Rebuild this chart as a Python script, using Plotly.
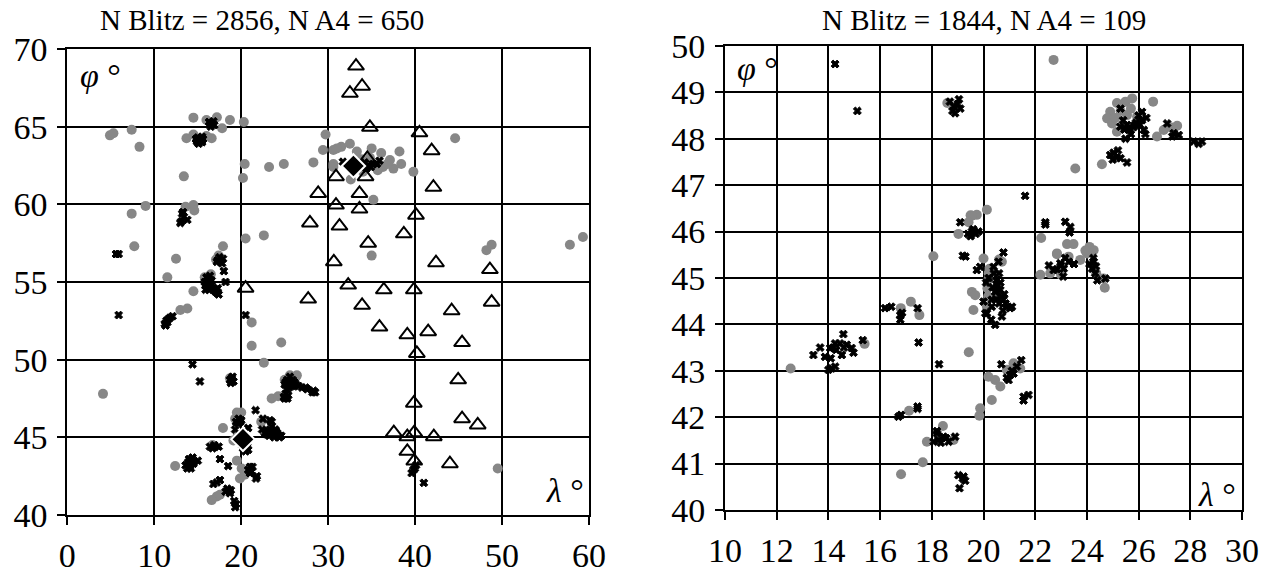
import plotly.graph_objects as go

# ---------------- Left panel data ----------------
L_grey_x = [4.9, 5.3, 7.4, 8.3, 14.5, 16.0, 17.2, 18.7, 20.3, 17.8, 13.7, 14.5, 16.6, 16.0,
            13.4, 20.4, 20.2, 23.2, 24.9, 28.3, 29.7, 29.4, 30.6, 31.5, 32.5, 31.0, 33.3,
            30.6, 30.6, 32.6, 35.0, 36.1, 37.1, 38.2, 38.4, 37.5, 36.3, 34.0, 39.8, 35.7, 36.8,
            33.8, 34.8, 35.2, 35.0, 44.6, 48.2, 48.8, 57.8, 59.3, 13.6, 14.5, 14.6, 9.0, 7.4,
            7.7, 12.5, 11.5, 17.9, 20.5, 22.6, 17.1, 17.4, 14.5, 15.8, 16.5, 13.0, 13.8, 21.2,
            21.2, 24.6, 22.6, 4.1, 18.7, 25.0, 25.6, 26.3, 23.5, 24.25, 20.0, 19.3, 19.5, 17.9,
            19.1, 19.6, 16.7, 12.4, 19.5, 20.05, 19.85, 20.4, 17.2, 16.6, 17.55, 49.5, 22.3, 26.4]
L_grey_y = [64.44, 64.57, 64.8, 63.7, 65.58, 65.43, 65.6, 65.43, 65.3, 64.9, 64.25, 64.5, 64.25, 64.4,
            61.8, 62.6, 61.7, 62.4, 62.6, 62.7, 64.5, 63.5, 63.5, 63.7, 63.9, 63.6, 63.4,
            62.6, 62.4, 61.6, 63.6, 63.3, 62.85, 63.4, 62.6, 62.3, 62.4, 62.1, 62.1, 62.2, 62.6,
            62.9, 63.0, 60.3, 56.7, 64.25, 57.05, 57.4, 57.4, 57.9, 59.85, 59.95, 59.6, 59.9, 59.4,
            57.3, 56.5, 55.3, 57.3, 57.8, 58.0, 56.45, 56.7, 54.4, 55.3, 55.5, 53.2, 53.3, 52.4,
            50.9, 51.1, 49.8, 47.8, 48.8, 48.7, 49.0, 48.9, 47.5, 47.65, 46.6, 46.2, 46.6, 45.6,
            44.8, 45.1, 44.5, 43.15, 43.5, 43.0, 42.35, 42.6, 41.2, 40.96, 41.3, 43.0, 46.0, 49.0]

L_blitz_x = [16.3, 16.6, 16.9, 16.5, 16.8,
             14.8, 15.0, 15.3, 15.5, 15.1, 15.4, 15.6, 15.0, 15.2, 14.9, 15.5,
             13.2, 13.4, 13.3, 13.1, 13.0, 13.8,
             5.6, 5.9, 5.9,
             17.3, 17.6, 17.9, 17.5, 17.8, 17.2, 18.0, 18.2,
             15.8, 16.0, 16.2, 16.4, 16.1, 16.5, 16.6, 15.9, 16.3, 17.0, 17.2, 17.3, 16.8, 17.4,
             16.2, 16.0, 16.4, 16.6, 17.1, 15.9, 16.3,
             11.2, 11.4, 11.6, 11.8, 11.3, 12.1, 11.5,
             20.5, 14.4, 15.25,
             18.7, 18.9, 19.1, 18.8, 19.0,
             25.0, 25.3, 25.6, 25.8, 26.0, 25.5, 25.2, 25.9, 26.3, 26.6, 27.0, 27.4, 27.6, 28.2, 28.5, 28.3,
             25.4, 25.7, 25.1, 26.1, 25.5, 25.8,
             24.9, 25.1, 25.3, 25.4, 25.0,
             21.65, 22.5, 23.3, 23.5,
             19.4, 19.7, 19.9, 19.6, 20.0,
             22.4, 22.7, 23.0, 23.3, 23.6, 23.9, 24.2, 24.4, 24.6, 23.2, 23.8, 22.9, 24.0, 23.5,
             23.4, 23.7, 24.1, 23.1, 24.3, 23.6,
             19.3, 20.8, 20.2, 20.5, 20.7, 20.1, 20.8,
             16.4, 16.7, 17.0, 17.4, 16.9,
             17.55, 18.5,
             13.6, 13.9, 14.1, 14.3, 14.5, 14.0, 14.4, 15.0, 14.2, 13.8, 14.2, 13.9, 14.6,
             20.8, 21.0, 21.2, 21.3, 21.0,
             21.8, 21.7,
             16.8, 17.55, 17.2,
             18.2, 18.5, 18.7, 18.4, 18.8,
             19.2, 19.4, 19.3,
             32.5, 33.2, 34.2, 34.6, 34.9, 35.2, 35.6, 34.4, 31.7, 35.9,
             39.97, 39.6, 40.1, 39.8, 41.0]
L_blitz_y = [65.3, 65.2, 65.1, 65.0, 65.35,
             64.2, 64.0, 64.1, 64.0, 63.9, 64.3, 64.2, 64.3, 64.15, 64.05, 64.35,
             59.4, 59.2, 59.5, 58.9, 58.8, 59.0,
             56.8, 56.8, 52.87,
             56.4, 56.3, 56.5, 56.6, 56.2, 56.3, 55.7, 55.0,
             55.0, 54.8, 55.2, 55.4, 54.6, 54.9, 55.1, 54.5, 54.5, 54.4, 54.3, 54.6, 54.6, 54.2,
             54.9, 55.3, 54.7, 54.8, 54.5, 54.8, 55.0,
             52.3, 52.5, 52.6, 52.7, 52.2, 52.8, 52.4,
             52.87, 49.7, 48.6,
             48.7, 48.8, 48.6, 48.5, 48.9,
             48.4, 48.7, 48.9, 48.5, 48.3, 48.2, 48.1, 48.7, 48.4, 48.3, 48.2, 48.2, 48.1, 47.9, 47.9, 48.0,
             48.6, 48.4, 48.55, 48.55, 48.5, 48.3,
             47.6, 47.8, 47.5, 47.7, 47.5,
             46.75, 46.2, 46.1, 46.0,
             46.0, 46.2, 46.0, 45.9, 46.1,
             45.5, 45.3, 45.4, 45.5, 45.3, 45.5, 45.2, 45.0, 45.1, 45.1, 45.0, 45.2, 45.4, 45.7,
             45.2, 45.2, 45.3, 45.3, 45.1, 45.45,
             45.5, 45.6, 44.3, 44.1, 44.4, 44.5, 44.2,
             44.4, 44.3, 44.4, 44.4, 44.5,
             43.6, 43.15,
             43.2, 43.4, 43.1, 43.5, 43.3, 43.6, 43.7, 43.5, 43.0, 43.0, 43.3, 43.3, 43.45,
             42.9, 43.1, 42.8, 43.1, 42.7,
             42.5, 42.35,
             42.0, 42.25, 42.1,
             41.5, 41.6, 41.4, 41.7, 41.6,
             40.9, 40.7, 40.5,
             62.5, 62.5, 62.7, 62.5, 62.4, 62.6, 62.6, 62.3, 62.74, 62.8,
             43.0, 42.7, 43.2, 42.9, 42.07]

L_a4_x = [33.2, 32.5, 33.9, 34.8, 40.5, 41.9, 34.5, 30.9, 34.3, 28.85, 33.6, 42.1, 30.9, 33.6,
          40.1, 27.9, 31.3, 38.7, 34.6, 30.65, 42.4, 48.6, 20.5, 32.3, 36.4, 39.85, 27.7, 33.9,
          48.8, 44.2, 35.9, 39.1, 41.5, 45.4, 40.2, 44.95, 39.85, 45.4, 47.2, 37.55, 39.1, 39.9,
          42.15, 39.1, 39.9, 44.0]
L_a4_y = [68.9, 67.15, 67.6, 64.96, 64.6, 63.45, 62.96, 61.78, 61.78, 60.7, 60.7, 61.1, 59.95, 59.7,
          59.3, 58.8, 58.6, 58.1, 57.5, 56.3, 56.24, 55.8, 54.6, 54.8, 54.5, 54.5, 53.9, 53.5,
          53.7, 53.15, 52.1, 51.6, 51.8, 51.1, 50.4, 48.7, 47.2, 46.2, 45.8, 45.3, 45.04, 45.3,
          45.04, 44.1, 43.47, 43.3]

L_diam_x = [32.9, 20.2]
L_diam_y = [62.47, 44.87]

# ---------------- Right panel data ----------------
R_grey_x = [22.71, 18.6, 25.16, 25.49, 25.75, 24.9, 24.78, 24.97, 25.16, 25.55, 25.94, 26.56, 25.3,
            25.1, 25.7, 26.71, 26.97, 27.23, 27.49, 23.55, 24.58, 19.5, 19.74, 20.13, 19.55, 19.42,
            19.03, 18.06, 22.23, 23.23, 23.48, 22.84, 23.29, 23.74, 24.0, 24.26, 24.36, 22.58, 22.84,
            23.0, 22.2, 24.1, 23.94, 24.64, 24.69, 20.0, 20.23, 20.19, 20.15, 20.13, 20.71, 20.6,
            19.55, 19.68, 19.61, 20.2, 20.18, 19.43, 16.8, 17.19, 17.52, 15.4, 12.54, 20.19, 20.45,
            20.65, 20.9, 21.16, 21.42, 20.32, 19.87, 19.84, 17.12, 18.43, 17.81, 18.84, 17.65, 16.81]
R_grey_y = [49.7, 48.77, 48.77, 48.8, 48.87, 48.58, 48.44, 48.33, 48.15, 48.51, 48.48, 48.8, 48.6,
            48.45, 48.65, 48.05, 48.19, 48.25, 48.28, 47.36, 47.45, 46.35, 46.36, 46.47, 46.34, 46.2,
            45.95, 45.47, 45.86, 45.73, 45.73, 45.53, 45.46, 45.39, 45.53, 45.6, 45.1, 45.1, 45.51,
            45.07, 45.07, 45.67, 45.59, 44.99, 44.79, 45.42, 45.2, 44.96, 44.78, 44.38, 45.35, 45.4,
            44.7, 44.63, 44.31, 45.1, 44.6, 43.4, 44.35, 44.49, 44.2, 43.58, 43.05, 42.87, 42.8,
            42.66, 43.02, 43.16, 43.05, 42.37, 42.19, 42.03, 42.14, 41.81, 41.47, 41.51, 41.03, 40.77]

R_blitz_x = [14.26, 15.12,
             18.7, 18.85, 19.0, 19.1, 18.9, 19.05, 18.8,
             25.29, 25.55, 25.8, 26.13, 26.13, 25.49, 26.2, 26.26, 25.65, 25.9, 26.0, 25.4, 25.7, 25.3, 26.3,
             25.6, 25.85, 26.05, 25.45,
             27.36, 27.55, 27.1, 27.3,
             28.13, 28.45, 28.32,
             24.9, 25.03, 25.15, 25.0, 25.2, 25.3, 25.55,
             21.61, 22.39, 22.39, 23.16, 23.36, 23.33,
             19.1,
             19.4, 19.55, 19.7, 19.6, 19.8, 19.5,
             19.3, 19.2,
             20.77,
             22.97, 22.71, 23.1, 23.3, 23.16, 22.84, 23.0, 22.53, 23.08, 23.5,
             24.26, 24.2, 24.32, 24.4, 24.71, 24.25, 24.1, 24.35,
             19.87, 20.39, 20.52, 20.65, 20.77, 20.9, 20.13, 20.45, 21.1, 20.71, 19.74, 20.58, 20.32,
             20.32, 20.0, 20.07, 21.03, 20.4, 20.55, 20.7, 20.85, 20.45, 20.6, 20.3, 20.2, 20.1, 20.6,
             20.5, 20.65, 20.8, 20.35, 20.75, 20.5,
             16.19, 16.43, 16.78, 16.78, 16.85, 17.45, 17.49,
             18.28,
             14.58, 14.26, 14.45, 14.71, 13.68, 13.42, 13.87, 14.09, 14.07, 14.19, 14.9, 14.97, 14.52,
             15.33, 14.13, 14.0, 14.26, 14.3, 14.6,
             20.97, 21.16, 21.29, 20.69, 21.46, 21.03, 20.9, 21.1,
             21.55, 21.74, 21.55,
             16.71, 16.81, 17.45, 17.45,
             18.07, 18.26, 18.45, 18.65, 18.2, 18.9, 18.35, 18.55, 18.2,
             19.03, 19.23, 19.29, 19.07, 19.2]
R_blitz_y = [49.61, 48.6,
             48.8, 48.7, 48.75, 48.65, 48.55, 48.85, 48.6,
             48.26, 48.3, 48.25, 48.58, 48.4, 48.0, 48.19, 48.1, 48.2, 48.35, 48.5, 48.4, 48.1, 48.65, 48.45,
             48.2, 48.3, 48.3, 48.2,
             48.12, 48.08, 48.33, 48.05,
             47.94, 47.94, 47.89,
             47.65, 47.7, 47.6, 47.55, 47.75, 47.58, 47.49,
             46.77, 46.2, 46.15, 46.21, 46.1, 45.98,
             46.2,
             45.95, 46.0, 45.95, 46.05, 46.0, 45.9,
             45.46, 45.48,
             45.55,
             45.32, 45.17, 45.2, 45.35, 45.43, 45.19, 45.27, 45.27, 45.03, 45.3,
             45.35, 45.2, 45.1, 44.95, 44.99, 45.43, 45.3, 45.25,
             45.24, 45.24, 44.96, 44.74, 44.53, 44.38, 44.24, 43.99, 44.38, 44.17, 45.17, 45.35, 44.53,
             44.38, 44.49, 44.24, 44.35, 45.1, 44.85, 44.6, 44.45, 44.7, 44.45, 44.1, 45.0, 44.9, 45.1,
             44.95, 44.9, 44.65, 44.8, 44.3, 44.55,
             44.35, 44.38, 44.2, 44.1, 44.25, 44.35, 43.61,
             43.14,
             43.79, 43.59, 43.59, 43.56, 43.5, 43.34, 43.3, 43.27, 43.49, 43.5, 43.49, 43.39, 43.34,
             43.66, 43.05, 43.02, 43.09, 43.45, 43.5,
             42.8, 42.94, 43.09, 43.14, 43.23, 42.91, 42.85, 43.0,
             42.44, 42.48, 42.36,
             42.01, 42.05, 42.23, 42.18,
             41.47, 41.51, 41.58, 41.47, 41.65, 41.58, 41.45, 41.55, 41.7,
             40.75, 40.72, 40.63, 40.47, 40.68]

titles = ["N Blitz = 2856, N A4 = 650", "N Blitz = 1844, N A4 = 109"]

FONT = "Liberation Serif"
GREY = "#878787"

fig = go.Figure()

def add_panel(gx, gy, bx, by, ax, ay, dx, dy, xa, ya):
    fig.add_trace(go.Scatter(x=gx, y=gy, mode="markers", xaxis=xa, yaxis=ya,
                             marker=dict(symbol="circle", size=10, color=GREY), showlegend=False))
    fig.add_trace(go.Scatter(x=bx, y=by, mode="markers", xaxis=xa, yaxis=ya,
                             marker=dict(symbol="x", size=7, color="black",
                                         line=dict(width=1, color="black")), showlegend=False))
    if ax:
        fig.add_trace(go.Scatter(x=ax, y=ay, mode="markers", xaxis=xa, yaxis=ya,
                                 marker=dict(symbol="triangle-up-open", size=14, color="black",
                                             line=dict(width=2, color="black")), showlegend=False))
    if dx:
        fig.add_trace(go.Scatter(x=dx, y=dy, mode="markers", xaxis=xa, yaxis=ya,
                                 marker=dict(symbol="diamond", size=18, color="black",
                                             line=dict(width=2, color="white")), showlegend=False))

add_panel(L_grey_x, L_grey_y, L_blitz_x, L_blitz_y, L_a4_x, L_a4_y, L_diam_x, L_diam_y, "x", "y")
add_panel(R_grey_x, R_grey_y, R_blitz_x, R_blitz_y, [], [], [], [], "x2", "y2")

axis_common = dict(showgrid=True, gridcolor="black", gridwidth=2, showline=True, linecolor="black",
                   linewidth=2, mirror=True, ticks="outside", ticklen=8, tickwidth=2, tickcolor="black",
                   zeroline=False, automargin=False,
                   tickfont=dict(family=FONT, size=34, color="black"))

fig.update_layout(
    template="none",
    width=1273, height=579, margin=dict(l=0, r=0, t=0, b=0),
    paper_bgcolor="white", plot_bgcolor="white",
    xaxis=dict(domain=[0.0529, 0.4627], range=[0, 60], dtick=10, tick0=0, anchor="y",
               ticklabelstandoff=1, **axis_common),
    yaxis=dict(domain=[0.1105, 0.9154], range=[40, 70], dtick=5, tick0=40, anchor="x",
               ticklabelstandoff=3, **axis_common),
    xaxis2=dict(domain=[0.5695, 0.9757], range=[10, 30], dtick=2, tick0=10, anchor="y2",
                ticklabelstandoff=1, **axis_common),
    yaxis2=dict(domain=[0.1192, 0.9206], range=[40, 50], dtick=1, tick0=40, anchor="x2",
                ticklabelstandoff=3, **axis_common),
)

ann_font = dict(family=FONT, size=29, color="black")
sym_font = dict(family=FONT, size=34, color="black")
fig.add_annotation(x=262 / 1273, y=1 - 20 / 579, xref="paper", yref="paper", text=titles[0],
                   showarrow=False, font=ann_font, xanchor="center", yanchor="middle")
fig.add_annotation(x=984 / 1273, y=1 - 20 / 579, xref="paper", yref="paper", text=titles[1],
                   showarrow=False, font=ann_font, xanchor="center", yanchor="middle")
for (px, py, t) in [(100, 76, "<i>φ</i> °"), (565, 490, "<i>λ</i> °"),
                    (757, 68, "<i>φ</i> °"), (1217, 494, "<i>λ</i> °")]:
    fig.add_annotation(x=px / 1273, y=1 - py / 579, xref="paper", yref="paper", text=t,
                       showarrow=False, font=sym_font, xanchor="center", yanchor="middle")

fig.write_html("out.html", config={"displayModeBar": False},
               post_script="document.body.style.margin='0';document.body.style.padding='0';")
